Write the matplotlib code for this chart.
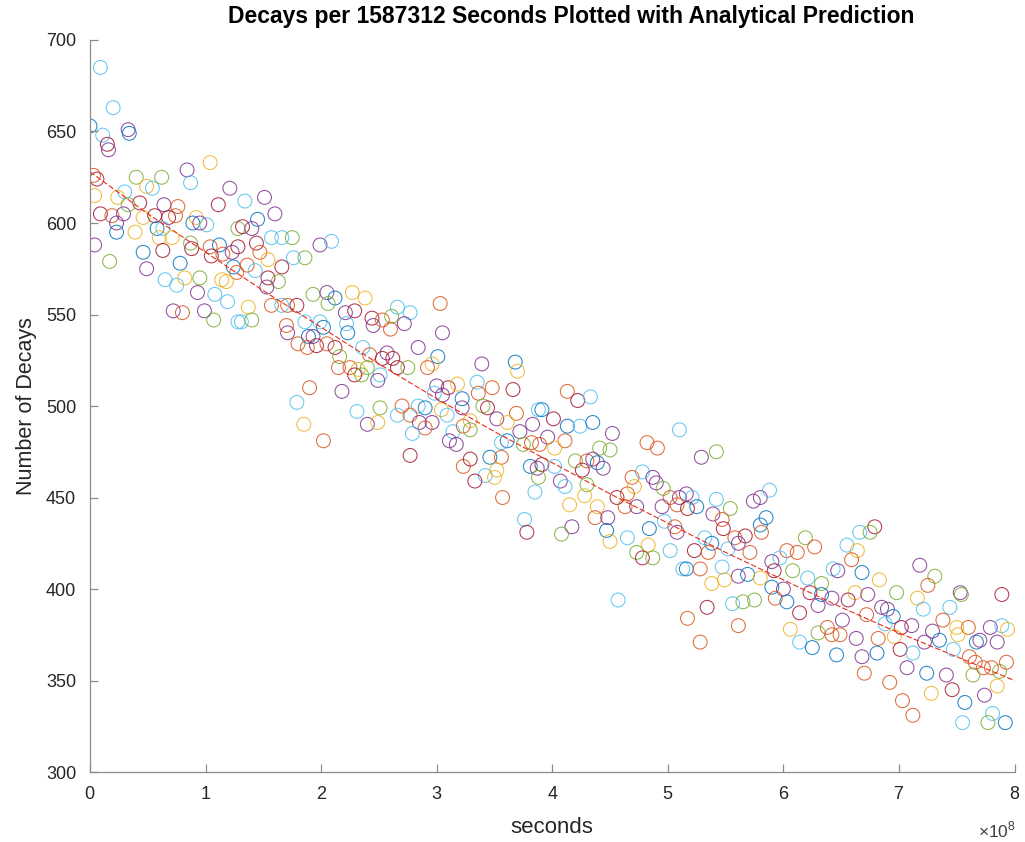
import matplotlib.pyplot as plt
from matplotlib.ticker import ScalarFormatter

plt.rcParams["font.family"] = ["Liberation Sans", "DejaVu Sans"]
plt.rcParams["mathtext.fontset"] = "custom"
plt.rcParams["mathtext.rm"] = "Liberation Sans"

# bin centres, in units of 1e8 seconds
seconds_e8 = [
    0.09, 0.20, 0.00, 0.11, 0.15, 0.16, 0.33, 0.34, 0.03, 0.06, 0.04, 0.40, 0.49, 0.54, 0.62, 0.30,
    0.24, 0.43, 0.09, 0.19, 0.29, 0.33, 0.46, 0.56, 0.23, 0.23, 0.39, 0.58, 0.60, 0.63, 0.04, 0.17,
    0.46, 0.49, 0.65,
    1.04, 0.84, 0.87, 1.21, 1.11, 0.64, 0.76, 0.68, 0.74, 0.92, 0.89, 1.01, 0.95, 1.28, 0.63, 0.71,
    0.87, 0.88, 1.04, 1.12, 1.05, 1.15, 1.23, 1.28, 1.24, 1.27, 0.78, 0.75, 0.82, 0.95, 1.14, 1.18,
    0.93, 1.08, 1.19, 0.72, 0.80, 0.99, 1.07, 1.28,
    1.34, 1.51, 1.60, 1.45, 1.32, 1.40, 1.57, 1.66, 1.75, 1.44, 1.47, 1.76, 1.86, 1.54, 1.36, 1.43,
    1.66, 1.54, 1.63, 1.53, 1.93, 1.37, 1.57, 1.66, 1.71, 1.79, 1.31, 1.40, 1.86, 1.70, 1.71, 1.80,
    1.89, 1.88, 1.90, 1.79, 1.85,
    1.99, 2.09, 2.05, 2.12, 2.27, 2.38, 2.06, 2.21, 2.29, 2.44, 2.45, 2.53, 1.99, 2.02, 2.22, 2.23,
    1.93, 1.96, 2.05, 2.12, 2.36, 2.42, 2.57, 2.53, 2.16, 2.15, 2.25, 2.32, 2.40, 2.29, 2.35, 2.51,
    2.49, 2.18, 2.31, 2.51, 2.40, 2.49, 2.02,
    3.03, 2.66, 2.77, 2.61, 2.60, 2.72, 3.05, 2.84, 2.62, 2.66, 3.01, 2.96, 2.92, 2.75, 3.00, 3.10,
    3.18, 2.98, 3.05, 3.22, 3.22, 2.70, 2.84, 2.90, 3.04, 2.66, 2.77, 3.09, 2.85, 2.96, 2.90, 2.79,
    3.14, 3.11, 3.17, 3.23, 2.77,
    3.68, 3.39, 3.70, 3.35, 3.48, 3.66, 3.36, 3.40, 3.44, 3.88, 3.69, 3.52, 3.61, 3.29, 3.23, 3.29,
    3.83, 3.72, 3.61, 3.56, 3.75, 3.82, 3.46, 3.56, 3.29, 3.81, 3.87, 3.42, 3.52, 3.50, 3.33, 3.85,
    3.57, 3.76, 3.78,
    4.13, 4.22, 4.33, 3.91, 4.01, 4.13, 4.24, 4.35, 3.96, 4.11, 3.89, 4.02, 4.41, 4.52, 4.50, 4.20,
    4.30, 4.35, 4.39, 4.44, 3.91, 4.02, 4.26, 3.88, 4.07, 4.11, 4.30, 4.28, 4.15, 4.39, 4.37, 4.48,
    4.47, 4.17, 4.08, 4.50,
    5.10, 4.82, 4.91, 4.78, 4.69, 4.87, 4.90, 4.71, 4.96, 5.16, 4.65, 4.56, 5.02, 5.10, 4.63, 4.73,
    4.95, 5.08, 4.97, 5.06, 4.84, 5.08, 4.65, 4.83, 5.02, 4.73, 4.78, 4.87, 5.13, 4.57,
    5.29, 5.42, 5.21, 5.25, 5.17, 5.42, 5.54, 5.74, 5.80, 5.39, 5.47, 5.48, 5.80, 5.32, 5.58, 5.67,
    5.81, 5.38, 5.52, 5.61, 5.71, 5.23, 5.35, 5.16, 5.28, 5.47, 5.61, 5.69, 5.38, 5.49, 5.80, 5.56,
    5.65, 5.75, 5.34, 5.17, 5.61, 5.28,
    5.88, 5.85, 6.19, 6.27, 6.03, 6.12, 5.90, 5.97, 5.92, 6.08, 6.43, 6.21, 6.33, 5.90, 6.00, 6.23,
    6.33, 6.42, 5.93, 6.03, 6.30, 6.14, 6.38, 6.06, 6.30, 6.42, 6.14, 6.25, 6.46,
    6.79, 6.66, 6.75, 6.55, 6.64, 6.59, 6.47, 6.68, 6.83, 6.98, 6.62, 6.73, 6.56, 6.85, 6.90, 6.72,
    6.95, 6.51, 6.88, 7.02, 7.11, 6.49, 6.63, 6.82, 6.96, 7.01, 6.81, 6.68, 7.07, 6.70, 6.92, 7.03,
    7.12,
    7.18, 7.31, 7.25, 7.53, 7.54, 7.89, 7.16, 7.44, 7.21, 7.38, 7.50, 7.60, 7.79, 7.89, 7.94, 7.29,
    7.51, 7.35, 7.22, 7.67, 7.70, 7.85, 7.47, 7.12, 7.61, 7.66, 7.73, 7.80, 7.87, 7.93, 7.24, 7.41,
    7.64, 7.85, 7.46, 7.74, 7.28, 7.57, 7.81, 7.92, 7.77, 7.55,
]

decays = [
    685, 663, 653, 648, 643, 640, 651, 649, 626, 624, 615, 625, 620, 619, 625, 617,
    614, 611, 605, 604, 605, 610, 603, 604, 600, 595, 595, 597, 592, 585, 588, 579,
    584, 575, 569,
    633, 629, 622, 619, 610, 610, 609, 603, 604, 603, 600, 599, 600, 597, 597, 592,
    589, 586, 587, 588, 582, 583, 584, 587, 576, 573, 578, 566, 570, 570, 569, 568,
    562, 561, 557, 552, 551, 552, 547, 546,
    612, 614, 605, 602, 598, 597, 592, 592, 592, 589, 584, 581, 581, 580, 577, 574,
    576, 570, 568, 565, 561, 554, 555, 555, 555, 555, 546, 547, 546, 544, 540, 534,
    538, 532, 510, 502, 490,
    588, 590, 562, 559, 562, 559, 556, 551, 552, 548, 544, 547, 546, 543, 545, 540,
    538, 533, 534, 532, 532, 528, 529, 526, 527, 521, 521, 520, 521, 517, 517, 517,
    514, 508, 497, 499, 490, 491, 481,
    556, 554, 551, 549, 542, 545, 540, 532, 526, 521, 527, 523, 521, 521, 511, 510,
    512, 507, 506, 504, 499, 500, 500, 499, 498, 495, 495, 495, 491, 491, 488, 485,
    486, 481, 479, 467, 473,
    524, 523, 519, 513, 510, 509, 507, 500, 499, 498, 496, 493, 491, 492, 489, 487,
    490, 486, 481, 480, 479, 480, 472, 472, 471, 467, 466, 462, 465, 461, 459, 453,
    450, 438, 431,
    508, 503, 505, 498, 493, 489, 489, 491, 483, 481, 479, 477, 477, 485, 476, 470,
    470, 471, 469, 466, 468, 467, 465, 461, 459, 456, 457, 451, 446, 445, 439, 439,
    432, 434, 430, 426,
    487, 480, 477, 464, 461, 461, 458, 456, 455, 452, 452, 450, 450, 450, 445, 445,
    445, 446, 437, 434, 433, 431, 428, 424, 421, 420, 417, 417, 411, 394,
    472, 475, 450, 445, 444, 449, 444, 448, 450, 441, 438, 433, 435, 428, 428, 429,
    431, 425, 422, 425, 420, 421, 420, 411, 411, 412, 407, 408, 403, 405, 406, 392,
    393, 394, 390, 384, 380, 371,
    454, 439, 428, 423, 421, 420, 415, 417, 410, 410, 411, 406, 403, 401, 400, 398,
    397, 395, 395, 393, 391, 387, 379, 378, 376, 375, 371, 368, 364,
    434, 431, 431, 424, 421, 416, 410, 409, 405, 398, 398, 397, 394, 390, 389, 386,
    385, 383, 381, 379, 380, 375, 373, 373, 374, 367, 365, 363, 357, 354, 349, 339,
    331,
    413, 407, 402, 398, 397, 397, 395, 390, 389, 383, 379, 379, 379, 380, 378, 377,
    375, 372, 371, 371, 372, 371, 367, 365, 363, 360, 357, 357, 355, 360, 354, 353,
    353, 347, 345, 342, 343, 338, 332, 327, 327, 327,
]

# b blue, o orange, y yellow, p purple, g green, c light blue, r dark red
# one string per row of the lists above
colour_keys = [
    "ccbcrppborygycgc", "yrropgyrpbybyrpg", "bpc",
    "ypcprporoybcpgcy", "grobroprbobcygyy", "pccpopgc",
    "cppbrpccgrocgyoc", "rrgpgyocorcgcopo", "boocy",
    "pcpbyygprrpocbcb", "prorcoprgooygrgc", "ppcgpyo",
    "occgoppprrbyogpr", "ycpbpocbycocppoc", "cppor",
    "bpycorogrcopyyog", "ppbcgoborbpcyyrc", "ocr",
    "orcbrbcbpooygpgg", "opbprcrgpcgyyyop", "bpgy",
    "coocoppygporopop", "pocobpcycgrgcc",
    "pgcbrcgppporbcor", "obcporobocpbyyyc", "ggrooo",
    "cbgooopcrgccgbpr", "bpobproygocbb",
    "rcgcyopbygyprppo", "bpcrpopoyrbppooo", "o",
    "pgopgryccoyopcyp", "ybpbppccoooogobp", "gyrpybcbgc",
]

colour_map = {
    "b": "#0072BD", "o": "#D95319", "y": "#EDB120", "p": "#7E2F8E",
    "g": "#77AC30", "c": "#4DBEEE", "r": "#A2142F",
}

# analytical prediction read at half steps of 1e8 s
pred_seconds_e8 = [0, 0.5, 1, 1.5, 2, 2.5, 3, 3.5, 4, 4.5, 5, 5.5, 6, 6.5, 7, 7.5, 8]
pred_decays = [628, 605, 584, 563, 543, 523, 504, 486, 469, 452, 436, 420, 405, 390, 376, 363, 350]

keys = "".join(colour_keys)
n = min(len(seconds_e8), len(decays))
keys = (keys + "bopygcr" * 10)[:n]
colours = [colour_map[k] for k in keys]

fig = plt.figure(figsize=(10.25, 8.42), dpi=100)
ax = fig.add_axes([0.0878, 0.0831, 0.902, 0.8694])

ax.scatter([s * 1e8 for s in seconds_e8[:n]], decays[:n], s=100, facecolors="none",
           edgecolors=colours, linewidths=0.75, alpha=0.85)
ax.plot([s * 1e8 for s in pred_seconds_e8], pred_decays, color="#e8301c", lw=0.8,
        dashes=(5, 2))

ax.set_xlim(0, 8e8)
ax.set_ylim(300, 700)
ax.set_xticks([i * 1e8 for i in range(9)])
ax.set_yticks(range(300, 701, 50))
fmt = ScalarFormatter(useMathText=True)
fmt.set_powerlimits((0, 0))
ax.xaxis.set_major_formatter(fmt)
ax.xaxis.get_offset_text().set_visible(False)
fig.text(0.991, 0.0145, r"$\times10^{8}$", ha="right", va="center", fontsize=12.5,
         color="#404040")

for side in ["top", "right"]:
    ax.spines[side].set_visible(False)
for side in ["left", "bottom"]:
    ax.spines[side].set_color("#8c8c8c")
    ax.spines[side].set_linewidth(0.9)
ax.tick_params(direction="in", length=6, width=0.9, color="#8c8c8c",
               labelsize=13, labelcolor="#262626", pad=10)

ax.set_title("Decays per 1587312 Seconds Plotted with Analytical Prediction",
             fontsize=16.5, fontweight="bold", color="black", pad=12, x=0.52)
ax.set_xlabel("seconds", fontsize=16, color="#262626", labelpad=10)
ax.set_ylabel("Number of Decays", fontsize=15.5, color="#262626", labelpad=6)

fig.savefig("out.png", dpi=100)
